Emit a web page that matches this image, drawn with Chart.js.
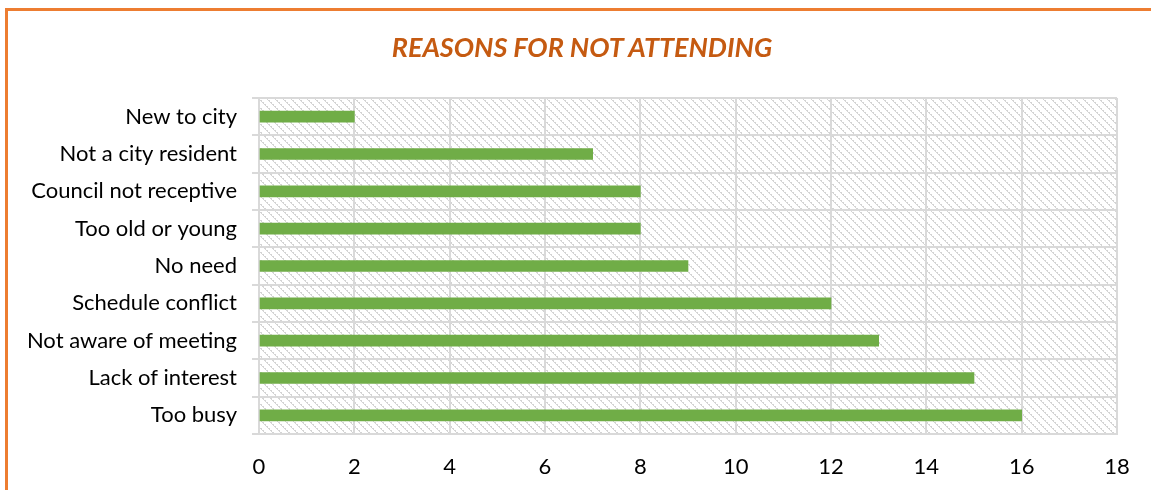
<!DOCTYPE html>
<html>
<head>
<meta charset="utf-8">
<script src="https://cdn.jsdelivr.net/npm/chart.js@4/dist/chart.umd.min.js"></script>
<style>
    html, body { margin: 0; padding: 0; background: #ffffff; overflow: hidden; }
    #frame {
        position: absolute; left: 5px; top: 8px; width: 1300px; height: 700px;
        border-top: 3px solid #ED7D31; border-left: 3px solid #ED7D31;
    }
    #title {
        position: absolute; left: 47px; top: 31px; width: 1070px;
        text-align: center; line-height: 32.4px;
        font-family: Lato, "Open Sans", sans-serif; font-size: 27px;
        font-weight: bold; font-style: italic; color: #C55A11;
    }
    #wrap { position: absolute; left: 0; top: 0; width: 1151px; height: 490px; }
</style>
</head>
<body>
<div id="frame"></div>
<div id="wrap"><canvas id="myBarChart" width="1151" height="490"></canvas></div>
<div id="title">REASONS FOR NOT ATTENDING</div>
<script>
// Chart values, top row first
const categories = [
    'New to city',
    'Not a city resident',
    'Council not receptive',
    'Too old or young',
    'No need',
    'Schedule conflict',
    'Not aware of meeting',
    'Lack of interest',
    'Too busy'
];
const responses = [2, 7, 8, 8, 9, 12, 13, 15, 16];
const axisMin = 0;
const axisMax = 18;
const axisStep = 2;

// Small tile with the grey diagonal hatch that fills the plot area
function makeHatch() {
    const tile = document.createElement('canvas');
    tile.width = 8;
    tile.height = 8;
    const tctx = tile.getContext('2d');
    tctx.fillStyle = '#ffffff';
    tctx.fillRect(0, 0, 8, 8);
    tctx.fillStyle = '#d4d4d4';
    for (let i = 0; i < 8; i++) {
        tctx.fillRect(i, i, 1, 1);
        if (i % 2 === 0) tctx.fillRect((i + 1) % 8, i, 1, 1);
    }
    return tctx.createPattern(tile, 'repeat');
}

const hatchPlugin = {
    id: 'hatchBackground',
    beforeDraw: (chart) => {
        const { ctx, chartArea } = chart;
        ctx.save();
        ctx.fillStyle = makeHatch();
        ctx.fillRect(chartArea.left, chartArea.top, chartArea.right - chartArea.left, chartArea.bottom - chartArea.top);
        ctx.restore();
    }
};

const ctx = document.getElementById('myBarChart').getContext('2d');
const labelFont = { family: 'Lato, "Open Sans", sans-serif', size: 22 };

new Chart(ctx, {
    type: 'bar',
    data: {
        labels: categories,
        datasets: [{
            label: 'Responses',
            data: responses,
            backgroundColor: '#70AD47',
            borderWidth: 0,
            barThickness: 11
        }]
    },
    options: {
        indexAxis: 'y',
        responsive: false,
        animation: false,
        // the title is the HTML div above; the padding leaves room for it
        layout: { padding: { left: 0, right: 34, top: 98, bottom: 0 } },
        plugins: {
            legend: { display: false },
            tooltip: { enabled: false },
            title: { display: false }
        },
        scales: {
            x: {
                min: axisMin,
                max: axisMax,
                ticks: { stepSize: axisStep, color: '#000000', font: labelFont, padding: 20 },
                grid: { color: '#d9d9d9', lineWidth: 2, drawTicks: false },
                border: { color: '#d9d9d9', width: 2 },
                afterFit: (scale) => { scale.height = 56; }
            },
            y: {
                ticks: { color: '#000000', font: labelFont, padding: 15 },
                grid: { color: '#d9d9d9', lineWidth: 2, tickLength: 7, offset: true },
                border: { color: '#d9d9d9', width: 2 },
                afterFit: (scale) => { scale.width = 259; }
            }
        }
    },
    plugins: [hatchPlugin]
});
</script>
</body>
</html>
